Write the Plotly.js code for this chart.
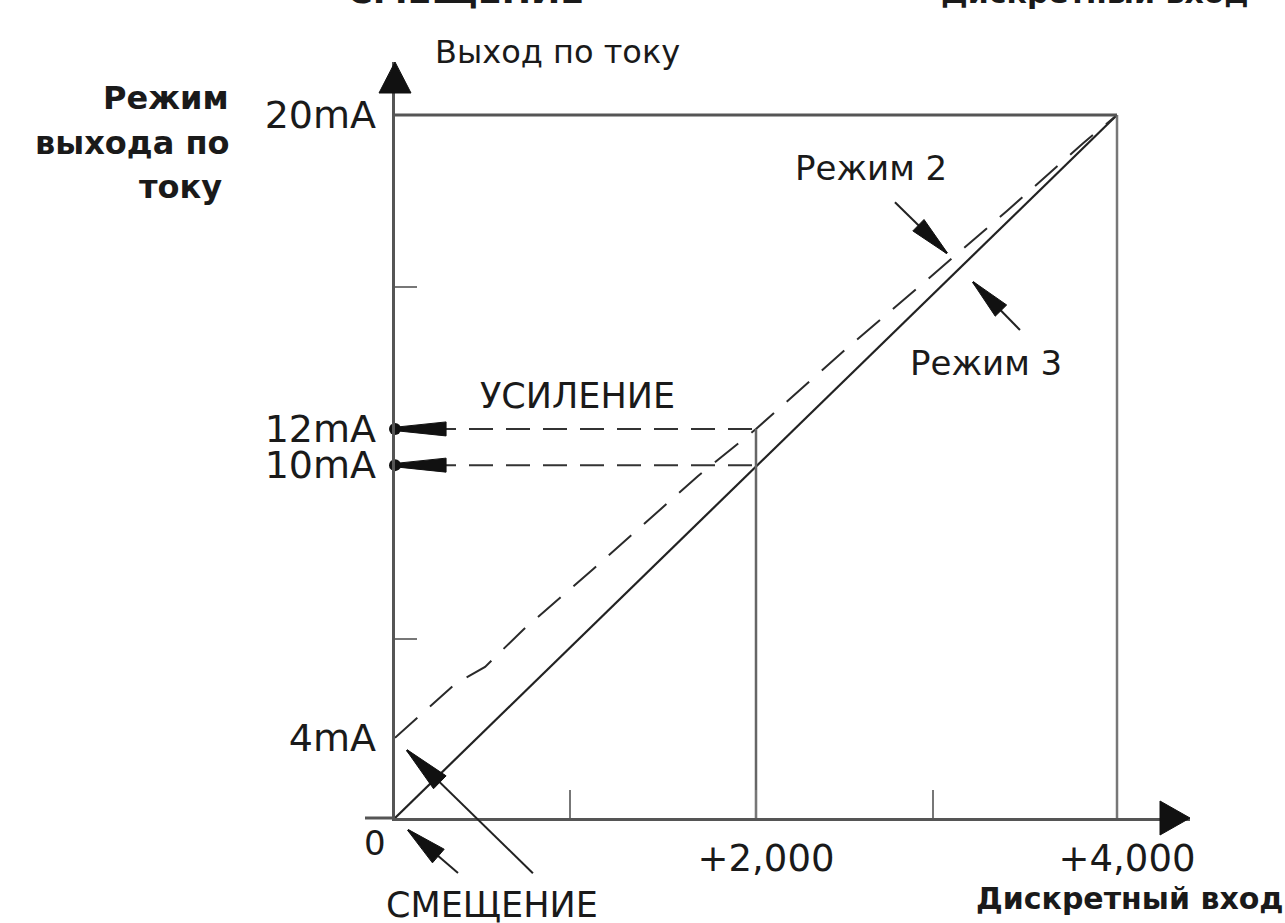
<!DOCTYPE html>
<html><head><meta charset="utf-8">
<script src="https://cdn.plot.ly/plotly-3.0.1.min.js"></script>
<style>html,body{margin:0;padding:0;background:#fff;}#chart{width:1285px;height:923px;}</style>
</head><body><div id="chart"></div>
<script>
// ---------------- data ----------------
const solidX = [0, 4000];                 // Режим 3 (straight)
const solidY = [0, 20];
const dashedX = [0, 332, 499, 709, 1097, 1679, 2000, 2504, 2947, 3390, 3812, 4000]; // Режим 2
const dashedY = [2.28, 3.81, 4.30, 5.35, 7.08, 9.73, 11.07, 13.37, 15.31, 17.27, 19.20, 20];
const levelNames = ['12mA', '10mA'];
const levelY = [11.07, 10.04];
const levelX = [0, 2000];
const gainX = [2000, 2000];
const fullX = [4000, 4000];
const topLineX = [0, 4000];
const fullY = 20;
const xTickVals = [970, 2000, 2980, 4000];
const xTickText = ['', '+2,000', '', '+4,000'];
const yTickVals = [5.09, 15.11];
const yLabelVals = [2.28, 10.04, 11.07, 20];
const yLabelText = ['4mA', '10mA', '12mA', '20mA'];

// ---------------- layout helpers ----------------
const W = 1285, H = 923;
const M = {l: 395, r: 95, t: 62, b: 105};
const XR = [0, 4404.4], YR = [0, 21.51];
const FONT = 'DejaVu Sans';
const INK = '#1a1a1a';
const pw = W - M.l - M.r, ph = H - M.t - M.b;
const pxX = p => (p - M.l) / pw;          // pixel -> paper
const pxY = p => (H - M.b - p) / ph;
const dX = v => (v - XR[0]) / (XR[1] - XR[0]);  // data -> paper
const dY = v => (v - YR[0]) / (YR[1] - YR[0]);

const traces = [];
traces.push({x: solidX, y: solidY, mode: 'lines', line: {color: '#222', width: 2.2}, hoverinfo: 'skip'});
traces.push({x: dashedX, y: dashedY, mode: 'lines', line: {color: '#2a2a2a', width: 2, dash: '30px,17px'}, hoverinfo: 'skip'});
levelY.forEach((v, i) => traces.push({x: levelX, y: [v, v], name: levelNames[i], mode: 'lines',
  line: {color: '#333', width: 2, dash: '24px,13px'}, hoverinfo: 'skip'}));
traces.push({x: gainX, y: [0, levelY[0]], mode: 'lines', line: {color: '#666', width: 2.5}, hoverinfo: 'skip'});
traces.push({x: fullX, y: [0, fullY], mode: 'lines', line: {color: '#777', width: 2.5}, hoverinfo: 'skip'});
traces.push({x: topLineX, y: [fullY, fullY], mode: 'lines', line: {color: '#555', width: 3}, hoverinfo: 'skip'});
traces.push({x: [0, 0], y: levelY, yaxis: 'y2', mode: 'markers', cliponaxis: false,
  marker: {color: '#111', size: 12}, hoverinfo: 'skip'});

// pointer arrows: tip in data units, tail offset in screen pixels
const pointers = [
  {tip: [3058, 16.07], tail: [-52, -51], len: 40, hw: 8, thw: 0.5},
  {tip: [3202, 15.25], tail: [47, 48], len: 40, hw: 8, thw: 0.5},
  {tip: [66, 1.93], tail: [126, 123], len: 46, hw: 9, thw: 0.5},
  {tip: [72, -0.34], tail: [50, 43], len: 40, hw: 9, thw: 0.5},
  {tip: [17, levelY[0]], tail: [48, 0], len: 48, hw: 7, thw: 2},
  {tip: [17, levelY[1]], tail: [48, 0], len: 48, hw: 7, thw: 2}
];
const shapes = [];
pointers.forEach(p => {
  const L = Math.hypot(p.tail[0], p.tail[1]);
  const ux = p.tail[0] / L, uy = p.tail[1] / L;
  const nx = -uy, ny = ux;
  const pts = [
    [p.thw * nx, p.thw * ny],
    [ux * p.len + p.hw * nx, uy * p.len + p.hw * ny],
    [ux * p.len - p.hw * nx, uy * p.len - p.hw * ny],
    [-p.thw * nx, -p.thw * ny]
  ];
  const path = 'M' + pts.map(q => q[0].toFixed(2) + ',' + (-q[1]).toFixed(2)).join('L') + 'Z';
  const base = {xref: 'paper', yref: 'paper', xsizemode: 'pixel', ysizemode: 'pixel',
    xanchor: dX(p.tip[0]), yanchor: dY(p.tip[1]), layer: 'above'};
  if (L > p.len + 1) {
    shapes.push(Object.assign({type: 'line', x0: 0, y0: 0, x1: p.tail[0], y1: -p.tail[1],
      line: {color: '#222', width: 2}}, base));
  }
  shapes.push(Object.assign({type: 'path', path: path, fillcolor: '#111', line: {color: '#111', width: 1}}, base));
});
// axis arrowheads and stub
shapes.push({type: 'path', xref: 'paper', yref: 'paper', xsizemode: 'pixel', ysizemode: 'pixel',
  xanchor: 0, yanchor: 1, path: 'M-16,-31L0,0L16,-31Z', fillcolor: '#111', line: {color: '#111', width: 1}, layer: 'above'});
shapes.push({type: 'path', xref: 'paper', yref: 'paper', xsizemode: 'pixel', ysizemode: 'pixel',
  xanchor: 1, yanchor: 0, path: 'M0,0L-30,17L-30,-17Z', fillcolor: '#111', line: {color: '#111', width: 1}, layer: 'above'});
shapes.push({type: 'line', xref: 'paper', yref: 'paper', xsizemode: 'pixel', xanchor: 0, x0: -30, x1: 0,
  y0: 0, y1: 0, line: {color: '#555', width: 3}});

// text labels (pixel positions of the picture)
const texts = [
  {t: 'Выход по току', x: 557, y: 52, s: 32},
  {t: '<b>Режим</b>', x: 231, y: 98, s: 32, xa: 'right'},
  {t: '<b>выхода по</b>', x: 231, y: 143, s: 32, xa: 'right'},
  {t: '<b>току</b>', x: 224, y: 187, s: 32, xa: 'right'},
  {t: 'Режим 2', x: 871, y: 168, s: 34},
  {t: 'Режим 3', x: 986, y: 363, s: 34},
  {t: 'УСИЛЕНИЕ', x: 577, y: 396, s: 35},
  {t: '0', x: 375, y: 843, s: 34},
  {t: 'СМЕЩЕНИЕ', x: 492, y: 905, s: 35},
  {t: '<b>Дискретный вход</b>', x: 1130, y: 898, s: 30},
  {t: '<b>СМЕЩЕНИЕ</b>', x: 465, y: -9, s: 35},
  {t: '<b>Дискретный вход</b>', x: 1095, y: -8, s: 30}
];
const annotations = texts.map(a => ({
  text: a.t, xref: 'paper', yref: 'paper', x: pxX(a.x), y: pxY(a.y),
  xanchor: a.xa || 'center', yanchor: 'middle', showarrow: false,
  font: {family: FONT, size: a.s, color: INK}
}));

const layout = {
  width: W, height: H, margin: M, showlegend: false,
  paper_bgcolor: '#fff', plot_bgcolor: '#fff',
  xaxis: {range: XR, showline: true, linecolor: '#555', linewidth: 3, ticks: 'inside', ticklen: 28,
    tickwidth: 2, tickcolor: '#777', tickvals: xTickVals, ticktext: xTickText,
    tickfont: {family: FONT, size: 37, color: INK}, ticklabelstandoff: 6, ticklabelshift: 10,
    showgrid: false, zeroline: false, fixedrange: true},
  yaxis: {range: YR, showline: true, linecolor: '#555', linewidth: 3, ticks: 'inside', ticklen: 22,
    tickwidth: 2, tickcolor: '#777', tickvals: yTickVals, showticklabels: false,
    showgrid: false, zeroline: false, fixedrange: true},
  yaxis2: {range: YR, overlaying: 'y', side: 'left', ticks: '', showline: false, showgrid: false,
    zeroline: false, tickvals: yLabelVals, ticktext: yLabelText,
    tickfont: {family: FONT, size: 38, color: INK}, ticklabelstandoff: 18, fixedrange: true},
  shapes: shapes, annotations: annotations
};
Plotly.newPlot('chart', traces, layout, {displayModeBar: false, staticPlot: true});
</script></body></html>
